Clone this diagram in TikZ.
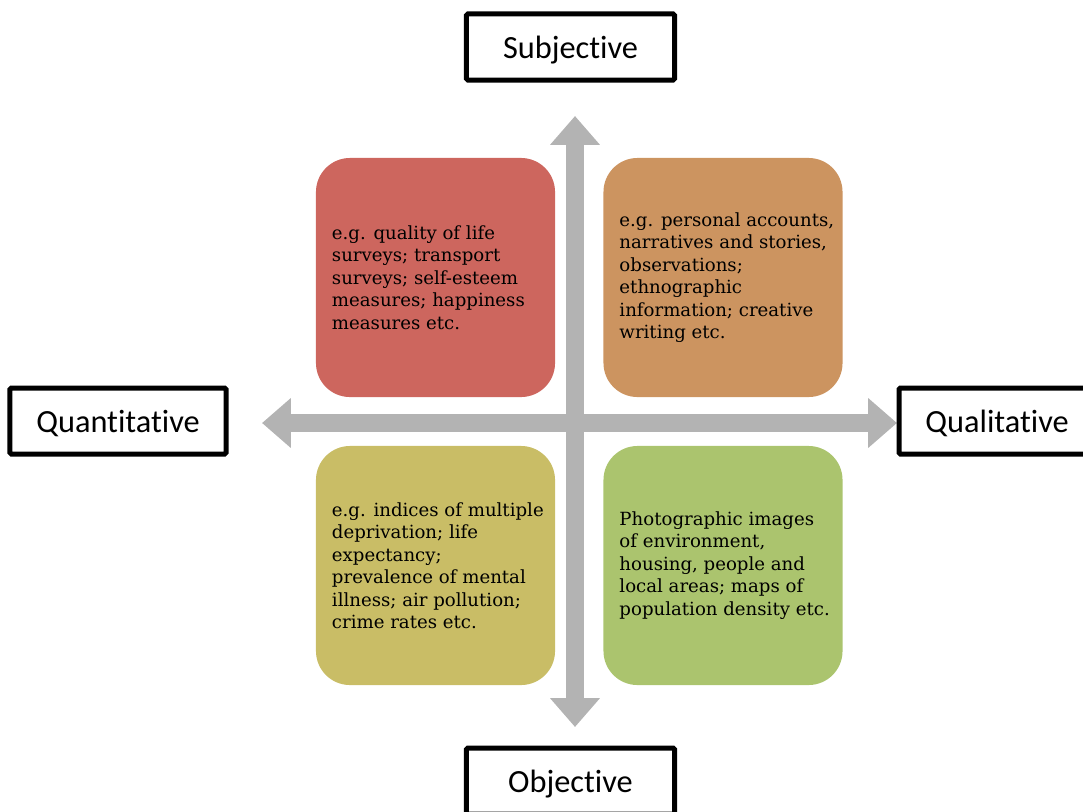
\documentclass[tikz,border=0pt]{standalone}
\usepackage{fontspec}
\setmainfont{DejaVu Serif}
\newfontfamily\labelfont[Ligatures=CommonOff]{Carlito}
\usetikzlibrary{arrows.meta}

\definecolor{axisgray}{RGB}{179,179,179}
\definecolor{quadred}{RGB}{205,102,94}
\definecolor{quadorange}{RGB}{204,148,96}
\definecolor{quadyellow}{RGB}{201,189,102}
\definecolor{quadgreen}{RGB}{171,196,110}

\begin{document}
\begin{tikzpicture}[x=0.025cm, y=-0.025cm,
  axis/.style={axisgray, line width=0.45cm,
    {Triangle[length=0.72cm, width=1.2cm]}-{Triangle[length=0.72cm, width=1.2cm]}},
  pole/.style={draw, line width=0.125cm, rounded corners=1pt, fill=white,
    minimum height=1.65cm, inner sep=0, text height=20pt, text depth=3.2pt,
    font=\labelfont\fontsize{23}{27}\selectfont},
  quad/.style={rounded corners=0.85cm, minimum width=5.975cm, minimum height=5.975cm, inner sep=0},
  quadtext/.style={anchor=west, xshift=0.4cm, align=left, inner sep=0,
    font=\fontsize{12.9}{16}\selectfont}]

\useasboundingbox (0,0) rectangle (1083,811);

% axes
\coordinate (top) at (575,116);
\coordinate (bottom) at (575,727);
\coordinate (left) at (262,423);
\coordinate (right) at (897,423);
\draw[axis] (left) -- (right);
\draw[axis] (top) -- (bottom);

% poles
\node[pole, minimum width=5.2cm] (subj) at (570.5,47) {Subjective};
\node[pole, minimum width=5.2cm] (obj) at (570.5,781) {Objective};
\node[pole, minimum width=5.4cm] (quan) at (118,421) {Quantitative};
\node[pole, minimum width=4.9cm, anchor=west] (qual) at (896.5,421) {Qualitative};

% quadrants
\node[quad, fill=quadred] (tl) at (435.5,277.5) {};
\node[quad, fill=quadorange] (tr) at (723,277.5) {};
\node[quad, fill=quadyellow] (bl) at (435.5,565.5) {};
\node[quad, fill=quadgreen] (br) at (723,565.5) {};

\node[quadtext] (tltext) at (tl.west) {e.g. quality of life\\surveys; transport\\surveys; self-esteem\\measures; happiness\\measures etc.};
\node[quadtext] (trtext) at (tr.west) {e.g. personal accounts,\\narratives and stories,\\observations;\\ethnographic\\information; creative\\writing etc.};
\node[quadtext] (bltext) at (bl.west) {e.g. indices of multiple\\deprivation; life\\expectancy;\\prevalence of mental\\illness; air pollution;\\crime rates etc.};
\node[quadtext] (brtext) at (br.west) {Photographic images\\of environment,\\housing, people and\\local areas; maps of\\population density etc.};

\end{tikzpicture}
\end{document}
